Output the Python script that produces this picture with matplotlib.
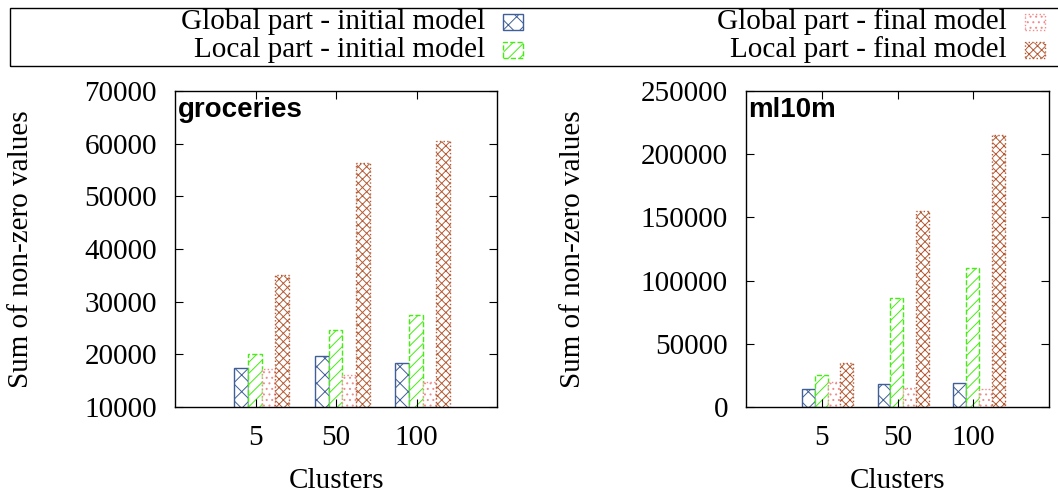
import numpy as np
import matplotlib
matplotlib.use('Agg')
import matplotlib.pyplot as plt
from matplotlib.patches import Rectangle

clusters = ['5', '50', '100']
series = ['Global part - initial model', 'Local part - initial model',
          'Global part - final model', 'Local part - final model']

groceries_global_init = [17400, 19700, 18300]
groceries_local_init = [20100, 24700, 27400]
groceries_global_final = [17200, 16100, 14700]
groceries_local_final = [35100, 56300, 60500]

ml10m_global_init = [14200, 17900, 19000]
ml10m_local_init = [25100, 86000, 110000]
ml10m_global_final = [19800, 15300, 14500]
ml10m_local_final = [35000, 155000, 215000]

styles = [
    dict(edgecolor='#3f5f96', hatch='xx', linestyle='-'),
    dict(edgecolor='#44ee11', hatch='///', linestyle='--'),
    dict(edgecolor='#f08c8c', hatch='...', linestyle=':'),
    dict(edgecolor='#b45a34', hatch='xxxx', linestyle=':'),
]

plt.rcParams['font.family'] = 'Liberation Serif'
plt.rcParams['font.size'] = 21
plt.rcParams['hatch.linewidth'] = 0.7

W, H = 1058, 497
fig = plt.figure(figsize=(W / 100, H / 100), dpi=100)


def panel(rect, data, ylim, yticks, name, ylab_x):
    ax = fig.add_axes([rect[0] / W, 1 - rect[3] / H, (rect[2] - rect[0]) / W, (rect[3] - rect[1]) / H])
    x = np.arange(len(clusters))
    width = 0.17
    for k, (vals, st) in enumerate(zip(data, styles)):
        ax.bar(x - 0.1775 + k * width, vals, width, facecolor='white', linewidth=1.0, **st)
    ax.set_xlim(-1, 3)
    ax.set_ylim(*ylim)
    ax.set_yticks(yticks)
    ax.set_xticks(x)
    ax.set_xticklabels(clusters)
    ax.tick_params(direction='in', top=True, right=True, length=6, width=0.8)
    ax.tick_params(axis='y', pad=13)
    ax.tick_params(axis='x', pad=13)
    for s in ax.spines.values():
        s.set_linewidth(1.0)
    ax.set_xlabel('Clusters', labelpad=12)
    ax.set_ylabel('Sum of non-zero values')
    ax.yaxis.set_label_coords((ylab_x - rect[0]) / (rect[2] - rect[0]), 0.5)
    ax.text(0.008, 0.94, name, transform=ax.transAxes, family='Liberation Sans',
            fontweight='bold', fontsize=20, va='center', ha='left')
    return ax


panel((175, 91, 497, 407),
      [groceries_global_init, groceries_local_init, groceries_global_final, groceries_local_final],
      (10000, 70000), np.arange(10000, 70001, 10000), 'groceries', 34)
panel((746, 91, 1049, 407),
      [ml10m_global_init, ml10m_local_init, ml10m_global_final, ml10m_local_final],
      (0, 250000), np.arange(0, 250001, 50000), 'ml10m', 586)

# key box across the top
fig.patches.append(Rectangle((10 / W, 1 - 66 / H), 1.0, 58 / H, transform=fig.transFigure,
                             fill=False, edgecolor='black', linewidth=1.0))
text_right = [485, 485, 1007, 1007]
row_y = [22, 50, 22, 50]
for name, st, xr, y in zip(series, styles, text_right, row_y):
    fig.text(xr / W, 1 - y / H, name, ha='right', va='center')
    fig.patches.append(Rectangle(((xr + 18) / W, 1 - (y + 8) / H), 20 / W, 16 / H,
                                 transform=fig.transFigure, facecolor='white',
                                 linewidth=1.0, **st))

fig.savefig('out.png', dpi=100)
